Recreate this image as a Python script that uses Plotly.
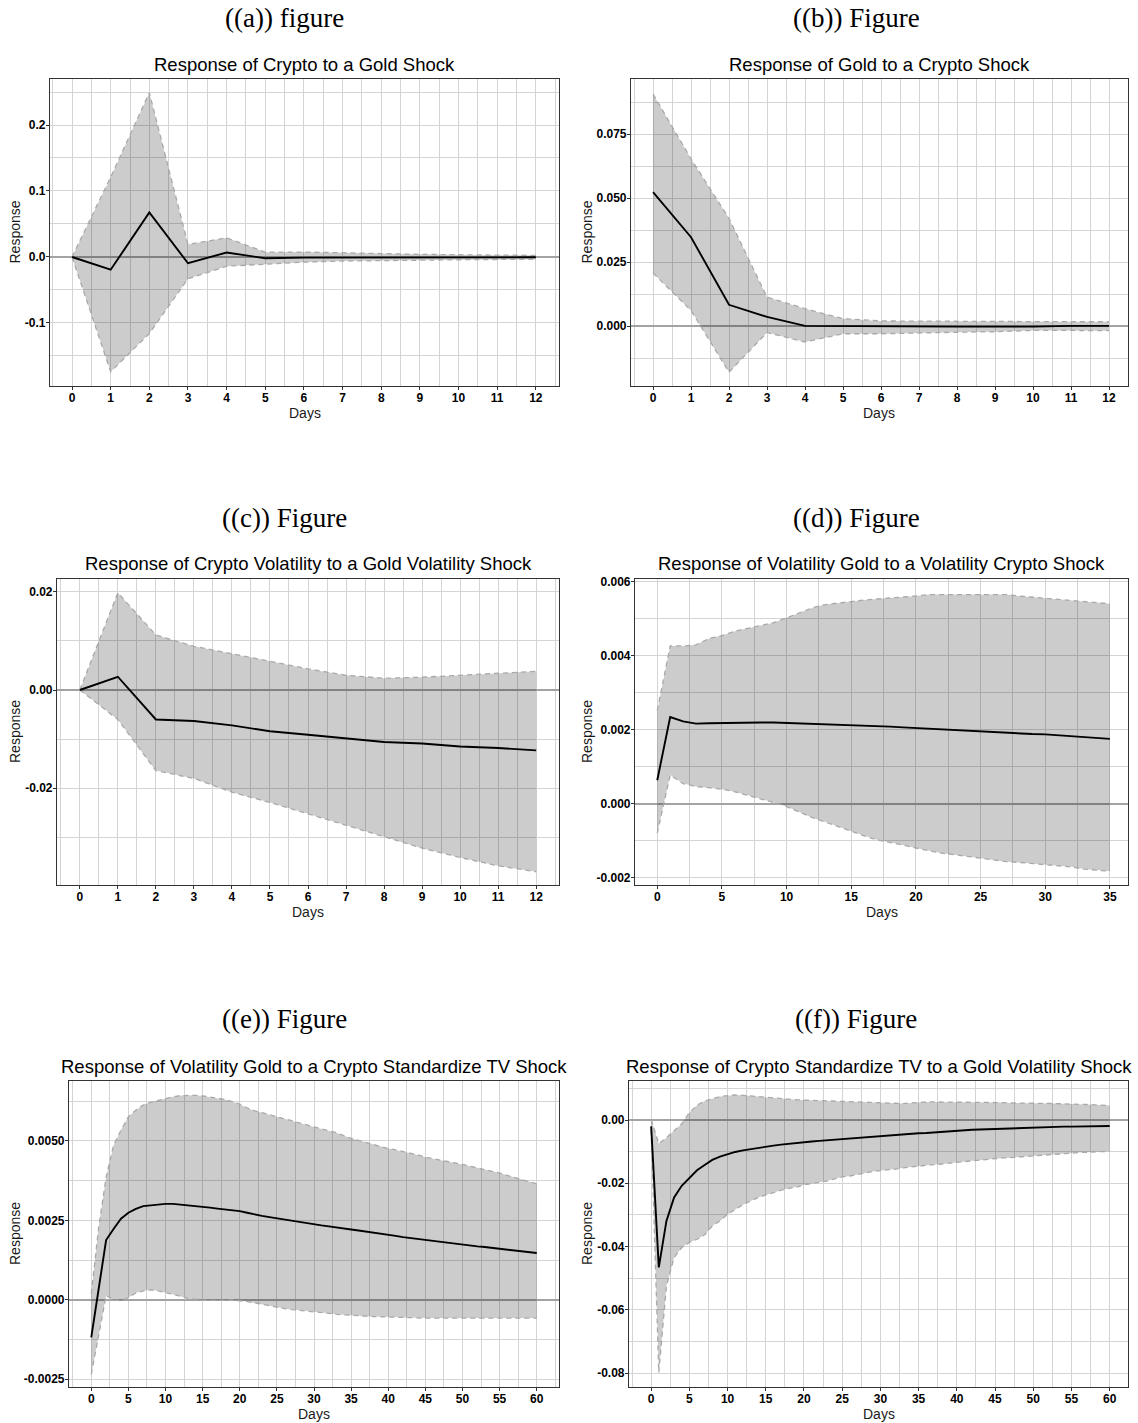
import plotly.graph_objects as go

# ---------------- data ----------------
days_12 = list(range(0, 13))
days_35 = list(range(0, 36))
days_60 = list(range(0, 61))

# (a) Response of Crypto to a Gold Shock
a_mean = [0.0, -0.0193, 0.0675, -0.0095, 0.0068, -0.0020, -0.0010, -0.0008, -0.0008, -0.0007, -0.0006, -0.0005, -0.0005]
a_upper = [0.0, 0.121, 0.249, 0.019, 0.029, 0.0072, 0.0075, 0.0068, 0.0052, 0.0040, 0.0030, 0.0028, 0.0025]
a_lower = [0.0, -0.174, -0.116, -0.033, -0.014, -0.011, -0.0078, -0.0062, -0.0052, -0.0047, -0.0042, -0.0038, -0.0035]

# (b) Response of Gold to a Crypto Shock
b_mean = [0.0523, 0.0347, 0.0083, 0.0036, 0.0001, 0.0000, -0.0002, -0.0002, -0.0002, -0.0002, -0.0002, 0.0001, 0.0001]
b_upper = [0.0906, 0.0653, 0.0420, 0.0113, 0.0068, 0.0029, 0.0020, 0.0019, 0.0019, 0.0018, 0.0017, 0.0017, 0.0017]
b_lower = [0.0207, 0.0061, -0.0180, -0.0025, -0.0062, -0.0030, -0.0030, -0.0026, -0.0024, -0.0022, -0.0017, -0.0017, -0.0018]

# (c) Response of Crypto Volatility to a Gold Volatility Shock
c_mean = [0.0, 0.0027, -0.0060, -0.0063, -0.0072, -0.0084, -0.0091, -0.0098, -0.0106, -0.0109, -0.0115, -0.0118, -0.0123]
c_upper = [0.0, 0.0198, 0.0112, 0.0089, 0.0074, 0.0058, 0.0043, 0.0030, 0.0024, 0.0026, 0.0030, 0.0033, 0.0038]
c_lower = [0.0, -0.0060, -0.0164, -0.0180, -0.0208, -0.0229, -0.0252, -0.0275, -0.0299, -0.0322, -0.0341, -0.0358, -0.0370]

# (d) Response of Volatility Gold to a Volatility Crypto Shock
d_mean = [0.00064, 0.00235, 0.00223, 0.00217, 0.00218, 0.00219, 0.00220, 0.00220, 0.00220, 0.00220,
          0.00219, 0.00218, 0.00217, 0.00216, 0.00215, 0.00213, 0.00212, 0.00211, 0.00209, 0.00207,
          0.00205, 0.00204, 0.00202, 0.00200, 0.00198, 0.00196, 0.00195, 0.00193, 0.00191, 0.00189,
          0.00188, 0.00186, 0.00183, 0.00181, 0.00178, 0.00176]
d_upper = [0.00252, 0.00427, 0.00427, 0.00430, 0.00447, 0.00455, 0.00467, 0.00474, 0.00482, 0.00490,
           0.00503, 0.00516, 0.00530, 0.00539, 0.00543, 0.00549, 0.00551, 0.00554, 0.00556, 0.00559,
           0.00562, 0.00566, 0.00566, 0.00568, 0.00568, 0.00568, 0.00567, 0.00566, 0.00562, 0.00559,
           0.00557, 0.00554, 0.00551, 0.00549, 0.00546, 0.00541]
d_lower = [-0.00079, 0.00078, 0.00055, 0.00047, 0.00044, 0.00040, 0.00033, 0.00024, 0.00015, 0.00004,
           -0.00007, -0.00022, -0.00037, -0.00049, -0.00062, -0.00074, -0.00086, -0.00097, -0.00103, -0.00111,
           -0.00119, -0.00126, -0.00133, -0.00137, -0.00142, -0.00146, -0.00151, -0.00156, -0.00158, -0.00161,
           -0.00164, -0.00167, -0.00170, -0.00176, -0.00179, -0.00182]

# (e) Response of Volatility Gold to a Crypto Standardize TV Shock
e_mean = [-0.00119, 0.00035, 0.00188, 0.00223, 0.00255, 0.00274, 0.00286, 0.00295, 0.00298, 0.00300,
          0.00302, 0.00302, 0.00300, 0.00297, 0.00294, 0.00292, 0.00290, 0.00287, 0.00285, 0.00282,
          0.00279, 0.00274, 0.00268, 0.00264, 0.00260, 0.00256, 0.00252, 0.00249, 0.00244, 0.00240,
          0.00237, 0.00234, 0.00231, 0.00227, 0.00224, 0.00221, 0.00218, 0.00215, 0.00212, 0.00208,
          0.00205, 0.00201, 0.00197, 0.00194, 0.00190, 0.00187, 0.00185, 0.00182, 0.00179, 0.00177,
          0.00174, 0.00171, 0.00168, 0.00166, 0.00163, 0.00161, 0.00159, 0.00156, 0.00153, 0.00150,
          0.00147]
e_upper = [0.00018, 0.00228, 0.00386, 0.00486, 0.00534, 0.00576, 0.00597, 0.00613, 0.00622, 0.00628,
           0.00634, 0.00639, 0.00643, 0.00644, 0.00644, 0.00642, 0.00639, 0.00635, 0.00631, 0.00624,
           0.00616, 0.00604, 0.00595, 0.00589, 0.00583, 0.00578, 0.00571, 0.00564, 0.00557, 0.00551,
           0.00544, 0.00538, 0.00532, 0.00526, 0.00517, 0.00508, 0.00502, 0.00495, 0.00489, 0.00482,
           0.00476, 0.00472, 0.00467, 0.00463, 0.00456, 0.00449, 0.00445, 0.00440, 0.00436, 0.00431,
           0.00426, 0.00421, 0.00415, 0.00410, 0.00404, 0.00399, 0.00392, 0.00385, 0.00379, 0.00372,
           0.00365]
e_lower = [-0.00235, -0.00108, 0.00013, 0.00000, -0.00003, 0.00007, 0.00021, 0.00028, 0.00031, 0.00028,
           0.00023, 0.00018, 0.00011, 0.00004, 0.00001, -0.00001, -0.00002, -0.00003, -0.00002, -0.00001,
           -0.00003, -0.00006, -0.00010, -0.00015, -0.00020, -0.00024, -0.00028, -0.00031, -0.00033, -0.00035,
           -0.00037, -0.00040, -0.00043, -0.00046, -0.00048, -0.00050, -0.00051, -0.00052, -0.00053, -0.00054,
           -0.00055, -0.00056, -0.00056, -0.00057, -0.00057, -0.00058, -0.00058, -0.00058, -0.00058, -0.00058,
           -0.00058, -0.00058, -0.00058, -0.00058, -0.00058, -0.00058, -0.00058, -0.00058, -0.00058, -0.00058,
           -0.00058]

# (f) Response of Crypto Standardize TV to a Gold Volatility Shock
f_mean = [-0.0020, -0.0466, -0.0319, -0.0245, -0.0208, -0.0182, -0.0159, -0.0142, -0.0126, -0.0116,
          -0.0108, -0.0101, -0.0096, -0.0092, -0.0087, -0.0084, -0.0081, -0.0078, -0.0075, -0.0072,
          -0.0070, -0.0068, -0.0066, -0.0064, -0.0062, -0.0060, -0.0058, -0.0056, -0.0055, -0.0053,
          -0.0051, -0.0049, -0.0048, -0.0046, -0.0044, -0.0042, -0.0041, -0.0039, -0.0037, -0.0036,
          -0.0034, -0.0033, -0.0031, -0.0030, -0.0029, -0.0028, -0.0027, -0.0026, -0.0025, -0.0024,
          -0.0023, -0.0023, -0.0022, -0.0022, -0.0021, -0.0021, -0.0021, -0.0020, -0.0020, -0.0020,
          -0.0019]
f_upper = [0.0002, -0.0075, -0.0056, -0.0035, -0.0012, 0.0023, 0.0047, 0.0060, 0.0068, 0.0074,
           0.0077, 0.0079, 0.0078, 0.0076, 0.0074, 0.0071, 0.0068, 0.0066, 0.0065, 0.0064,
           0.0063, 0.0062, 0.0061, 0.0060, 0.0059, 0.0058, 0.0057, 0.0056, 0.0055, 0.0054,
           0.0054, 0.0053, 0.0052, 0.0052, 0.0054, 0.0056, 0.0057, 0.0057, 0.0057, 0.0057,
           0.0057, 0.0057, 0.0056, 0.0056, 0.0055, 0.0055, 0.0055, 0.0054, 0.0054, 0.0054,
           0.0054, 0.0053, 0.0052, 0.0052, 0.0051, 0.0051, 0.0050, 0.0049, 0.0048, 0.0047,
           0.0046]
f_lower = [-0.0030, -0.0798, -0.0524, -0.0435, -0.0403, -0.0387, -0.0377, -0.0363, -0.0335, -0.0319,
           -0.0298, -0.0282, -0.0268, -0.0256, -0.0245, -0.0237, -0.0229, -0.0222, -0.0216, -0.0212,
           -0.0205, -0.0201, -0.0197, -0.0193, -0.0186, -0.0180, -0.0177, -0.0172, -0.0167, -0.0163,
           -0.0160, -0.0158, -0.0155, -0.0151, -0.0148, -0.0146, -0.0143, -0.0141, -0.0139, -0.0136,
           -0.0134, -0.0131, -0.0129, -0.0127, -0.0124, -0.0122, -0.0120, -0.0119, -0.0117, -0.0115,
           -0.0113, -0.0111, -0.0109, -0.0107, -0.0106, -0.0104, -0.0103, -0.0102, -0.0101, -0.0100,
           -0.0099]

# tick values / labels
x12_ticks = list(range(0, 13))
x12_text = [str(v) for v in x12_ticks]
x35_ticks = [0, 5, 10, 15, 20, 25, 30, 35]
x35_text = [str(v) for v in x35_ticks]
x60_ticks = [0, 5, 10, 15, 20, 25, 30, 35, 40, 45, 50, 55, 60]
x60_text = [str(v) for v in x60_ticks]

a_yticks = [-0.1, 0.0, 0.1, 0.2]
a_ytext = ["-0.1", "0.0", "0.1", "0.2"]
b_yticks = [0.0, 0.025, 0.05, 0.075]
b_ytext = ["0.000", "0.025", "0.050", "0.075"]
c_yticks = [-0.02, 0.0, 0.02]
c_ytext = ["-0.02", "0.00", "0.02"]
d_yticks = [-0.002, 0.0, 0.002, 0.004, 0.006]
d_ytext = ["-0.002", "0.000", "0.002", "0.004", "0.006"]
e_yticks = [-0.0025, 0.0, 0.0025, 0.005]
e_ytext = ["-0.0025", "0.0000", "0.0025", "0.0050"]
f_yticks = [-0.08, -0.06, -0.04, -0.02, 0.0]
f_ytext = ["-0.08", "-0.06", "-0.04", "-0.02", "0.00"]

titles = [
    "Response of Crypto to a Gold Shock",
    "Response of Gold to a Crypto Shock",
    "Response of Crypto Volatility to a Gold Volatility Shock",
    "Response of Volatility Gold to a Volatility Crypto Shock",
    "Response of Volatility Gold to a Crypto Standardize TV Shock",
    "Response of Crypto Standardize TV to a Gold Volatility Shock",
]
subcaptions = ["((a)) figure", "((b)) Figure", "((c)) Figure", "((d)) Figure", "((e)) Figure", "((f)) Figure"]

# ---------------- layout helpers ----------------
W, H = 1138, 1423
H_EFF, TOP = 1419, 4   # measured: the page draws the figure a few px lower


def fx(p):
    return p / W


def fy(p):
    return 1 - (p - TOP) / H_EFF


def minor_vals(ticks):
    step = ticks[1] - ticks[0]
    return [ticks[0] - step / 2] + [t + step / 2 for t in ticks]


panels = [
    dict(frame=(50, 559, 79, 386), xr=[-0.57, 12.6], yr=[-0.1955, 0.2697],
         days=days_12, mean=a_mean, up=a_upper, lo=a_lower,
         xt=x12_ticks, xtt=x12_text, yt=a_yticks, ytt=a_ytext, sub_x=284, sub_y=18),
    dict(frame=(631, 1128, 79, 386), xr=[-0.58, 12.5], yr=[-0.0234, 0.0965],
         days=days_12, mean=b_mean, up=b_upper, lo=b_lower,
         xt=x12_ticks, xtt=x12_text, yt=b_yticks, ytt=b_ytext, sub_x=856, sub_y=18),
    dict(frame=(57, 559, 579, 885), xr=[-0.6, 12.6], yr=[-0.0397, 0.0226],
         days=days_12, mean=c_mean, up=c_upper, lo=c_lower,
         xt=x12_ticks, xtt=x12_text, yt=c_yticks, ytt=c_ytext, sub_x=284, sub_y=518),
    dict(frame=(635, 1128, 579, 885), xr=[-1.72, 36.4], yr=[-0.00219, 0.00608],
         days=days_35, mean=d_mean, up=d_upper, lo=d_lower,
         xt=x35_ticks, xtt=x35_text, yt=d_yticks, ytt=d_ytext, sub_x=856, sub_y=518),
    dict(frame=(69, 559, 1081, 1387), xr=[-3, 63], yr=[-0.00275, 0.00689],
         days=days_60, mean=e_mean, up=e_upper, lo=e_lower,
         xt=x60_ticks, xtt=x60_text, yt=e_yticks, ytt=e_ytext, sub_x=284, sub_y=1019),
    dict(frame=(629, 1128, 1081, 1387), xr=[-2.9, 62.4], yr=[-0.0844, 0.01233],
         days=days_60, mean=f_mean, up=f_upper, lo=f_lower,
         xt=x60_ticks, xtt=x60_text, yt=f_yticks, ytt=f_ytext, sub_x=856, sub_y=1019),
]

GRID = "#D4D4D4"
FRAME = "#333333"
BAND = "rgba(0,0,0,0.2)"
BOUND = "#A9A9A9"
tick_font = dict(family="Liberation Sans, Arial, sans-serif", size=12, color="black", weight="bold")
sans = "Liberation Sans, Arial, sans-serif"

fig = go.Figure()
annotations = []

for i, p in enumerate(panels, start=1):
    xa = "x" if i == 1 else f"x{i}"
    ya = "y" if i == 1 else f"y{i}"
    x0, x1, y0, y1 = p["frame"]

    fig.add_trace(go.Scatter(x=p["days"], y=p["lo"], xaxis=xa, yaxis=ya, mode="lines",
                             line=dict(color=BOUND, width=1.3, dash="5px,4px"),
                             showlegend=False, hoverinfo="skip"))
    fig.add_trace(go.Scatter(x=p["days"], y=p["up"], xaxis=xa, yaxis=ya, mode="lines",
                             line=dict(color=BOUND, width=1.3, dash="5px,4px"),
                             fill="tonexty", fillcolor=BAND,
                             showlegend=False, hoverinfo="skip"))
    fig.add_trace(go.Scatter(x=p["days"], y=p["mean"], xaxis=xa, yaxis=ya, mode="lines",
                             line=dict(color="black", width=1.9),
                             showlegend=False))

    xkey = "xaxis" if i == 1 else f"xaxis{i}"
    ykey = "yaxis" if i == 1 else f"yaxis{i}"
    fig.update_layout(**{
        xkey: dict(domain=[fx(x0), fx(x1)], range=p["xr"], anchor=ya,
                   tickmode="array", tickvals=p["xt"], ticktext=p["xtt"],
                   showgrid=True, gridcolor=GRID, gridwidth=1,
                   minor=dict(tickmode="array", tickvals=minor_vals(p["xt"]),
                              showgrid=True, gridcolor=GRID, gridwidth=1),
                   zeroline=False, showline=True, mirror=True, linecolor=FRAME, linewidth=1.2,
                   ticks="outside", ticklen=3, tickcolor=FRAME, tickwidth=1,
                   ticklabelstandoff=-3,
                   tickfont=tick_font, fixedrange=True),
        ykey: dict(domain=[fy(y1), fy(y0)], range=p["yr"], anchor=xa,
                   tickmode="array", tickvals=p["yt"], ticktext=p["ytt"],
                   showgrid=True, gridcolor=GRID, gridwidth=1,
                   minor=dict(tickmode="array", tickvals=minor_vals(p["yt"]),
                              showgrid=True, gridcolor=GRID, gridwidth=1),
                   zeroline=True, zerolinecolor="#A3A3A3", zerolinewidth=1.8,
                   showline=True, mirror=True, linecolor=FRAME, linewidth=1.2,
                   ticks="outside", ticklen=3, tickcolor=FRAME, tickwidth=1,
                   ticklabelstandoff=-2,
                   tickfont=tick_font, fixedrange=True),
    })

    cx = (x0 + x1) / 2
    cy = (y0 + y1) / 2
    # panel title
    annotations.append(dict(text=titles[i - 1], x=fx(cx), y=fy(y0 - 15), xref="paper", yref="paper",
                            xanchor="center", yanchor="middle", showarrow=False,
                            font=dict(family=sans, size=18.5, color="black")))
    # axis titles
    annotations.append(dict(text="Days", x=fx(cx), y=fy(y1 + 27), xref="paper", yref="paper",
                            xanchor="center", yanchor="middle", showarrow=False,
                            font=dict(family=sans, size=14, color="#1a1a1a")))
    rx = 15 if x0 < 300 else 587
    annotations.append(dict(text="Response", x=fx(rx), y=fy(cy), xref="paper", yref="paper",
                            xanchor="center", yanchor="middle", showarrow=False, textangle=-90,
                            font=dict(family=sans, size=14, color="#1a1a1a")))
    # sub-caption
    annotations.append(dict(text=subcaptions[i - 1], x=fx(p["sub_x"]), y=fy(p["sub_y"]),
                            xref="paper", yref="paper", xanchor="center", yanchor="middle",
                            showarrow=False,
                            font=dict(family="Liberation Serif, DejaVu Serif, serif", size=27, color="black")))

fig.update_layout(width=W, height=H, margin=dict(l=0, r=0, t=0, b=0),
                  paper_bgcolor="white", plot_bgcolor="white",
                  showlegend=False, annotations=annotations)

fig.write_html("out.html")
